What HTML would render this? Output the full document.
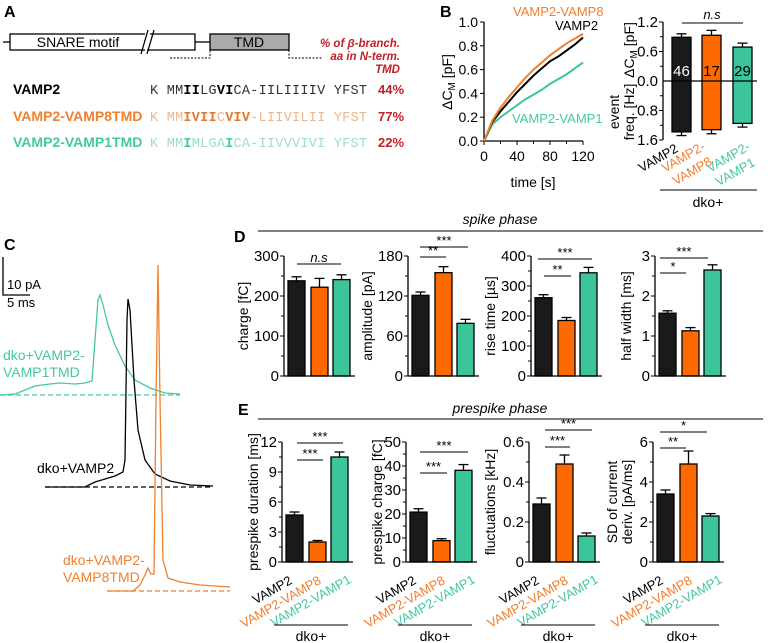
<!DOCTYPE html>
<html><head><meta charset="utf-8"><style>
html,body{margin:0;padding:0;background:#fff;}
svg{display:block;font-family:"Liberation Sans",sans-serif;}
.mono{font-family:"Liberation Mono",monospace;}
</style></head><body>
<svg id="fig" width="773" height="643" viewBox="0 0 773 643" xmlns="http://www.w3.org/2000/svg">
<!-- Panel A -->
<g>
<text x="4" y="17" font-size="16" font-weight="bold">A</text>
<line x1="3" y1="42" x2="10" y2="42" stroke="#000" stroke-width="1.3"/>
<rect x="10" y="34" width="137" height="16" fill="#fff" stroke="#000" stroke-width="1.3"/>
<text x="78" y="47" font-size="14" text-anchor="middle">SNARE motif</text>
<rect x="145" y="30" width="6" height="24" fill="#fff"/>
<line x1="141" y1="54" x2="148" y2="30" stroke="#000" stroke-width="1.3"/>
<line x1="147" y1="54" x2="154" y2="30" stroke="#000" stroke-width="1.3"/>
<path d="M150 34 H195 V50 H147" fill="none" stroke="#000" stroke-width="1.3"/>
<line x1="195" y1="42" x2="210" y2="42" stroke="#000" stroke-width="1.3"/>
<rect x="210" y="34" width="79" height="16" fill="#aaa" stroke="#000" stroke-width="1.3"/>
<text x="249" y="47" font-size="14" text-anchor="middle">TMD</text>
<path d="M170 58 H210 V50 M289 50 V58 H323" fill="none" stroke="#000" stroke-width="1" stroke-dasharray="2,1.5"/>
<g font-size="11.5" font-weight="bold" font-style="italic" fill="#c0202a" text-anchor="end">
<text x="400" y="47">% of β-branch.</text><text x="400" y="60">aa in N-term.</text><text x="400" y="73">TMD</text></g>
<g font-size="14" font-weight="bold">
<text x="13" y="94" fill="#000">VAMP2</text>
<text x="13" y="121" fill="#f07f2e">VAMP2-VAMP8TMD</text>
<text x="13" y="147" fill="#45c8a0">VAMP2-VAMP1TMD</text></g>
<g class="mono" font-size="13.5">
<text x="150" y="94" textLength="217" lengthAdjust="spacing" fill="#333">K MM<tspan font-weight="bold" fill="#000">II</tspan>LG<tspan font-weight="bold" fill="#000">VI</tspan>CA-IILIIIIV YFST</text>
<text x="150" y="121" textLength="217" lengthAdjust="spacing" fill="#e8b890">K MM<tspan font-weight="bold" fill="#e07a30">IVII</tspan>C<tspan font-weight="bold" fill="#e07a30">VIV</tspan>-LIIVILII YFST</text>
<text x="150" y="147" textLength="217" lengthAdjust="spacing" fill="#a0dcc8">K MM<tspan font-weight="bold" fill="#45c8a0">I</tspan>MLGA<tspan font-weight="bold" fill="#45c8a0">I</tspan>CA-IIVVVIVI YFST</text></g>
<g font-size="13" font-weight="bold" fill="#c0202a">
<text x="378" y="94">44%</text><text x="378" y="121">77%</text><text x="378" y="147">22%</text></g>
</g>
<text x="440" y="17" font-size="16" font-weight="bold">B</text>
<text x="4" y="250" font-size="16" font-weight="bold">C</text>
<text x="234" y="242" font-size="16" font-weight="bold">D</text>
<text x="238" y="415" font-size="16" font-weight="bold">E</text>
<!-- section headers -->
<text x="500" y="224" font-size="14" font-style="italic" text-anchor="middle">spike phase</text>
<line x1="258" y1="231" x2="763" y2="231" stroke="#000" stroke-width="1"/>
<text x="500" y="413" font-size="14" font-style="italic" text-anchor="middle">prespike phase</text>
<line x1="258" y1="419" x2="763" y2="419" stroke="#000" stroke-width="1"/>
<!-- Panel C -->
<g>
<path d="M3 257 V295 H30" fill="none" stroke="#000" stroke-width="1.3"/>
<text x="7" y="289" font-size="13">10 pA</text>
<text x="7" y="307" font-size="13">5 ms</text>
<line x1="0" y1="395" x2="180" y2="395" stroke="#45c8a0" stroke-width="1.2" stroke-dasharray="5,3"/>
<path d="M0 395 L15 394 L25 390 L35 386 L50 384 L60 383 L75 384 L85 383 L92 381 L95 340 L98 300 L100 295 L103 305 L108 325 L115 345 L125 366 L135 380 L150 388 L165 393 L180 394" fill="none" stroke="#45c8a0" stroke-width="1.3"/>
<text x="3" y="360" font-size="14" fill="#45c8a0">dko+VAMP2-</text>
<text x="3" y="377" font-size="14" fill="#45c8a0">VAMP1TMD</text>
<line x1="45" y1="487" x2="213" y2="487" stroke="#000" stroke-width="1.2" stroke-dasharray="5,3"/>
<path d="M45 487 L85 487 L95 482 L105 479 L115 476 L123 472 L125 460 L127 320 L128 299 L130 310 L134 380 L138 430 L145 460 L155 474 L170 481 L190 485 L213 486" fill="none" stroke="#000" stroke-width="1.3"/>
<text x="37" y="473" font-size="14" fill="#000">dko+VAMP2</text>
<line x1="107" y1="591" x2="230" y2="591" stroke="#f07f2e" stroke-width="1.2" stroke-dasharray="5,3"/>
<path d="M107 591 L133 591 L140 585 L145 575 L148 568 L151 574 L154 574 L156 400 L158 265 L160 400 L163 560 L168 578 L180 582 L200 585 L230 587" fill="none" stroke="#f07f2e" stroke-width="1.3"/>
<text x="63" y="565" font-size="14" fill="#f07f2e">dko+VAMP2-</text>
<text x="63" y="582" font-size="14" fill="#f07f2e">VAMP8TMD</text>
</g>
<g id="charts"></g>
</svg>
<script>
// ---- Panel B left: cumulative capacitance ----
const timeS = [0,10,20,30,40,50,60,70,80,90,100,110,120];
const capVamp8 = [0,0.17,0.28,0.37,0.45,0.53,0.60,0.66,0.72,0.77,0.82,0.86,0.90];
const capVamp2 = [0,0.16,0.25,0.33,0.41,0.48,0.55,0.61,0.67,0.71,0.76,0.81,0.87];
const capVamp1 = [0,0.14,0.20,0.25,0.30,0.35,0.39,0.43,0.48,0.52,0.56,0.61,0.66];
const capTicks = [0,0.2,0.4,0.6,0.8,1.0];
const capTickLabels = ["0.0","0.2","0.4","0.6","0.8","1.0"];
const timeTicks = [0,40,80,120];
// ---- Panel B right ----
const bGroups = ["VAMP2","VAMP2-VAMP8","VAMP2-VAMP1"];
const bCapMean = [0.89,0.93,0.69];
const bCapErr = [0.07,0.1,0.08];
const bFreqMean = [1.38,1.32,1.15];
const bFreqErr = [0.1,0.11,0.1];
const bCounts = ["46","17","29"];
// ---- Panel D ----
const dTitles = ["charge [fC]","amplitude [pA]","rise time [µs]","half width [ms]"];
const dMax = [300,180,400,3];
const dTicks = [[0,100,200,300],[0,60,120,180],[0,100,200,300,400],[0,1,2,3]];
const dMeans = [[238,222,241],[121,155,79],[261,185,344],[1.57,1.13,2.65]];
const dErrs = [[10,22,12],[5,9,6],[10,10,18],[0.06,0.08,0.13]];
// ---- Panel E ----
const eTitles = [["prespike duration [ms]"],["prespike charge [fC]"],["fluctuations [kHz]"],["SD of current","deriv. [pA/ms]"]];
const eMax = [12,50,0.6,6];
const eTicks = [[0,3,6,9,12],[0,10,20,30,40,50],[0,0.2,0.4,0.6],[0,2,4,6]];
const eMeans = [[4.7,2.0,10.5],[20.8,8.9,38.2],[0.29,0.49,0.13],[3.4,4.9,2.3]];
const eErrs = [[0.3,0.15,0.5],[1.4,0.8,2.4],[0.03,0.045,0.015],[0.2,0.65,0.12]];

const NS="http://www.w3.org/2000/svg";
const root=document.getElementById('charts');
const cols=["#1a1a1a","#ff6a00","#3cc59a"];
const tcols=["#000","#f07f2e","#45c8a0"];
function el(tag,attrs,parent){const e=document.createElementNS(NS,tag);for(const k in attrs)e.setAttribute(k,attrs[k]);(parent||root).appendChild(e);return e;}
function txt(s,attrs,parent){const e=el('text',attrs,parent);e.textContent=s;return e;}
function fmt(v){return String(v);}

// B left
(function(){
 const g=el('g',{});
 
 
 const x=t=>484+t/120*99, y=v=>141-v*119;
 el('line',{x1:484,y1:y(1),x2:484,y2:141,stroke:'#000','stroke-width':1.3},g);
 el('line',{x1:484,y1:141,x2:583,y2:141,stroke:'#000','stroke-width':1.3},g);
 capTicks.forEach((v,i)=>{el('line',{x1:480,y1:y(v),x2:484,y2:y(v),stroke:'#000'},g);
  const t=txt(capTickLabels[i],{x:478,y:y(v)+5,'font-size':14,'text-anchor':'end'},g);
  });
 timeTicks.forEach(v=>{el('line',{x1:x(v),y1:141,x2:x(v),y2:145,stroke:'#000'},g);
  txt(fmt(v),{x:x(v),y:161,'font-size':14,'text-anchor':'middle'},g);});
 for(let v=20;v<120;v+=40)el('line',{x1:x(v),y1:141,x2:x(v),y2:144,stroke:'#000'},g);
 txt('time [s]',{x:533,y:187,'font-size':14,'text-anchor':'middle'},g);
 const yl=txt('',{transform:'translate(452,82) rotate(-90)','font-size':14,'text-anchor':'middle'},g);
 yl.innerHTML='ΔC<tspan font-size="10" dy="3">M</tspan><tspan dy="-3"> [pF]</tspan>';
 [[capVamp1,cols[2]],[capVamp2,'#000'],[capVamp8,'#f07f2e']].forEach(([arr,c],k)=>{
  const p=el('polyline',{points:arr.map((v,i)=>x(timeS[i])+','+y(v)).join(' '),fill:'none',stroke:c,'stroke-width':2},g);
  
  });
 txt('VAMP2-VAMP8',{x:513,y:16,'font-size':13,fill:'#f07f2e'},g);
 txt('VAMP2',{x:555,y:30,'font-size':13},g);
 txt('VAMP2-VAMP1',{x:512,y:123,'font-size':13,fill:'#45c8a0'},g);
})();

// B right
(function(){
 const g=el('g',{});
 
 
 const ax=663, y0=81, yu=v=>y0-v/1.2*59, yd=v=>y0+v/1.6*59;
 const bx=[672,702,733], bw=19;
 bGroups.forEach((n,i)=>{
  const c=bx[i]+bw/2;
  el('line',{x1:c,y1:yu(bCapMean[i]+bCapErr[i]),x2:c,y2:yd(bFreqMean[i]+bFreqErr[i]),stroke:'#000','stroke-width':1.3},g);
  el('line',{x1:c-5,y1:yu(bCapMean[i]+bCapErr[i]),x2:c+5,y2:yu(bCapMean[i]+bCapErr[i]),stroke:'#000','stroke-width':1.3},g);
  el('line',{x1:c-5,y1:yd(bFreqMean[i]+bFreqErr[i]),x2:c+5,y2:yd(bFreqMean[i]+bFreqErr[i]),stroke:'#000','stroke-width':1.3},g);
  const r=el('rect',{x:bx[i],y:yu(bCapMean[i]),width:bw,height:yd(bFreqMean[i])-yu(bCapMean[i]),fill:cols[i],stroke:'#000','stroke-width':1.3},g);
  
  
  txt(bCounts[i],{x:c,y:76,'font-size':15,'text-anchor':'middle',fill:i==0?'#fff':'#000'},g);
 });
 el('line',{x1:ax,y1:22,x2:ax,y2:140,stroke:'#000','stroke-width':1.3},g);
 el('line',{x1:ax,y1:81,x2:757,y2:81,stroke:'#000','stroke-width':1.3},g);
 [[0.6,'0.6'],[1.2,'1.2']].forEach(([v,l])=>{el('line',{x1:ax-4,y1:yu(v),x2:ax,y2:yu(v),stroke:'#000'},g);txt(l,{x:ax-5,y:yu(v)+5,'font-size':15,'text-anchor':'end'},g);});
 [[0.8,'0.8'],[1.6,'1.6']].forEach(([v,l])=>{el('line',{x1:ax-4,y1:yd(v),x2:ax,y2:yd(v),stroke:'#000'},g);txt(l,{x:ax-5,y:yd(v)+5,'font-size':15,'text-anchor':'end'},g);});
 [0.3,0.9].forEach(v=>el('line',{x1:ax-3,y1:yu(v),x2:ax,y2:yu(v),stroke:'#000'},g));
 [0.4,1.2].forEach(v=>el('line',{x1:ax-3,y1:yd(v),x2:ax,y2:yd(v),stroke:'#000'},g));
 txt('0.0',{x:ax-5,y:86,'font-size':15,'text-anchor':'end'},g);
 const yl=txt('',{transform:'translate(634,50) rotate(-90)','font-size':14,'text-anchor':'middle'},g);
 yl.innerHTML='ΔC<tspan font-size="10" dy="3">M</tspan><tspan dy="-3"> [pF]</tspan>';
 txt('freq. [Hz]',{transform:'translate(634,112) rotate(-90)','font-size':14,'text-anchor':'middle'},g);
 txt('event',{transform:'translate(619,112) rotate(-90)','font-size':14,'text-anchor':'middle'},g);
 el('line',{x1:682,y1:23,x2:743,y2:23,stroke:'#000'},g);
 txt('n.s',{x:712,y:19,'font-size':13,'font-style':'italic','text-anchor':'middle'},g);
 txt('VAMP2',{transform:'translate(679,151) rotate(-30)','font-size':13,'text-anchor':'end'},g);
 txt('VAMP2-',{transform:'translate(706,149) rotate(-30)','font-size':13,'text-anchor':'end',fill:'#f07f2e'},g);
 txt('VAMP8',{transform:'translate(713,164) rotate(-30)','font-size':13,'text-anchor':'end',fill:'#f07f2e'},g);
 txt('VAMP2-',{transform:'translate(751,149) rotate(-30)','font-size':13,'text-anchor':'end',fill:'#45c8a0'},g);
 txt('VAMP1',{transform:'translate(756,165) rotate(-30)','font-size':13,'text-anchor':'end',fill:'#45c8a0'},g);
 el('line',{x1:660,y1:190,x2:757,y2:190,stroke:'#000'},g);
 txt('dko+',{x:708,y:207,'font-size':14,'text-anchor':'middle'},g);
})();

const axisX=[284,408,531,655];
function barChart(name,ax,top,bot,max,ticks,means,errs,titles){
 const g=el('g',{});
 
 
 const y=v=>bot-v/max*(bot-top);
 const off=[4,27,49],bw=17;
 means.forEach((m,i)=>{
  const c=ax+off[i]+bw/2;
  el('line',{x1:c,y1:y(m),x2:c,y2:y(m+errs[i]),stroke:'#000','stroke-width':1.3},g);
  el('line',{x1:c-5,y1:y(m+errs[i]),x2:c+5,y2:y(m+errs[i]),stroke:'#000','stroke-width':1.3},g);
  const r=el('rect',{x:ax+off[i],y:y(m),width:bw,height:bot-y(m),fill:cols[i],stroke:'#000','stroke-width':1.3},g);
  
  
 });
 el('line',{x1:ax,y1:top,x2:ax,y2:bot,stroke:'#000','stroke-width':1.3},g);
 el('line',{x1:ax,y1:bot,x2:ax+71,y2:bot,stroke:'#000','stroke-width':1.3},g);
 ticks.forEach((v,i)=>{
  el('line',{x1:ax-4,y1:y(v),x2:ax,y2:y(v),stroke:'#000'},g);
  if(i<ticks.length-1){const mv=(v+ticks[i+1])/2;el('line',{x1:ax-3,y1:y(mv),x2:ax,y2:y(mv),stroke:'#000'},g);}
  txt(fmt(v),{x:ax-5,y:y(v)+5,'font-size':15,'text-anchor':'end'},g);
 });
 const tx = ax - (max<1?38:(max>=100?40:28));
 if(titles.length==1) txt(titles[0],{transform:`translate(${tx+4},${(top+bot)/2}) rotate(-90)`,'font-size':14,'text-anchor':'middle'},g);
 else { txt(titles[0],{transform:`translate(${tx-8},${(top+bot)/2}) rotate(-90)`,'font-size':14,'text-anchor':'middle'},g);
        txt(titles[1],{transform:`translate(${tx+7},${(top+bot)/2}) rotate(-90)`,'font-size':14,'text-anchor':'middle'},g);}
 return g;
}
function sig(g,x1,x2,yy,s){el('line',{x1:x1,y1:yy,x2:x2,y2:yy,stroke:'#000'},g);txt(s,{x:(x1+x2)/2,y:yy-2,'font-size':13,'text-anchor':'middle','font-style':s=='n.s'?'italic':'normal'},g);}
const dNames=['charge-chart','amplitude-chart','rise-time-chart','half-width-chart'];
const dg=dTitles.map((t,i)=>barChart(dNames[i],axisX[i],256,376,dMax[i],dTicks[i],dMeans[i],dErrs[i],[t]));
sig(dg[0],297,341,264,'n.s');
sig(dg[1],420,468,247,'***');sig(dg[1],420,446,257,'**');
sig(dg[2],538,592,259,'***');sig(dg[2],544,571,276,'**');
sig(dg[3],660,708,258,'***');sig(dg[3],660,686,273,'*');
const eNames=['prespike-duration-chart','prespike-charge-chart','fluctuations-chart','sd-current-deriv-chart'];
const eg=eTitles.map((t,i)=>barChart(eNames[i],axisX[i]-2,442,562,eMax[i],eTicks[i],eMeans[i],eErrs[i],t));
sig(eg[0],297,343,443,'***');sig(eg[0],297,323,460,'***');
sig(eg[1],420,468,452,'***');sig(eg[1],420,447,473,'***');
sig(eg[2],545,592,430,'***');sig(eg[2],545,570,447,'***');
sig(eg[3],660,707,432,'*');sig(eg[3],660,686,448,'**');
eg.forEach((g,k)=>{
 const ax=axisX[k]-2;
 bGroups.forEach((n,i)=>{
  const t=txt(n,{transform:`translate(${ax+[11,40,70][i]},${[583,583,582][i]}) rotate(-30)`,'font-size':13,'text-anchor':'end',fill:tcols[i]},g);
  
  
 });
 el('line',{x1:ax-8,y1:625,x2:ax+66,y2:625,stroke:'#000'},g);
 txt('dko+',{x:ax+29,y:641,'font-size':14,'text-anchor':'middle'},g);
});
</script>
</body></html>
